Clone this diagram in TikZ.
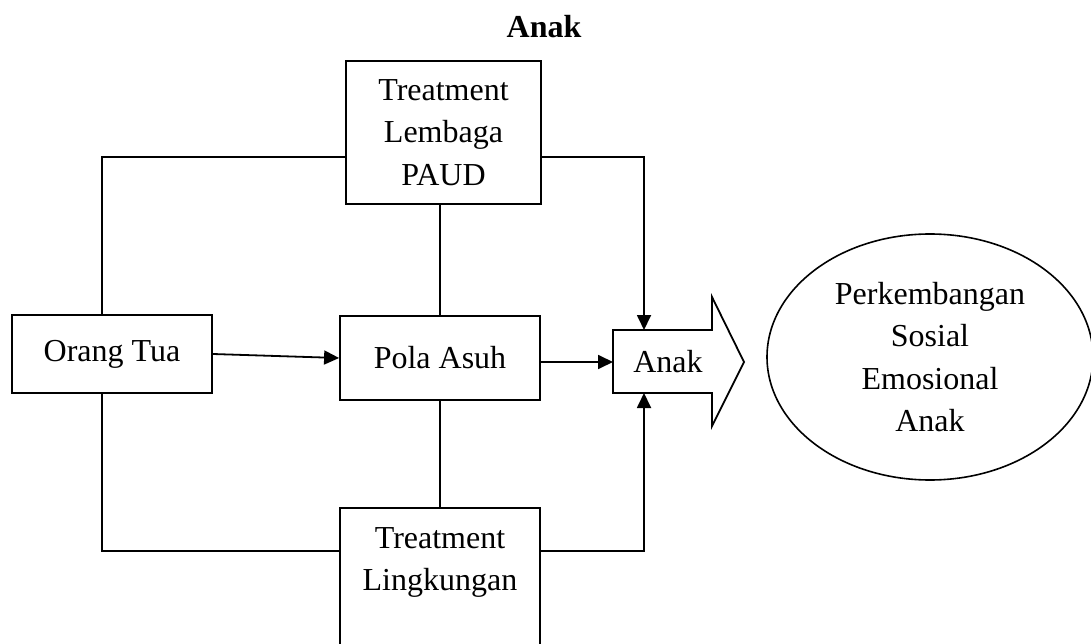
\documentclass[tikz,border=0pt]{standalone}
\usepackage{fontspec}
\setmainfont{Liberation Serif}
\usetikzlibrary{shapes.geometric,arrows.meta,calc}
\begin{document}
\begin{tikzpicture}[x=1pt,y=-1pt,
  txt/.style={font=\fontsize{32}{42.5}\selectfont, align=center},
  box/.style={draw, line width=1.8pt, txt, inner sep=0pt},
  conn/.style={line width=1.8pt},
  arr/.style={conn, -{Triangle[length=15pt,width=14pt]}}]
\useasboundingbox (0,0) rectangle (1091,644);
\clip (0,0) rectangle (1091,644);
\fill[white] (0,0) rectangle (1091,644);

\node[txt, anchor=base, font=\fontsize{32}{42.5}\selectfont\bfseries] (title) at (544,38) {Anak};

\node[box, minimum width=195pt, minimum height=143pt] (lembaga) at (443.5,132.5) {Treatment\\Lembaga\\PAUD};
\node[box, minimum width=200pt, minimum height=78pt] (orang) at (112,354) {Orang Tua};
\node[box, minimum width=200pt, minimum height=84pt] (pola) at (440,358) {Pola Asuh};
\node[draw, line width=1.8pt, minimum width=200pt, minimum height=170pt, anchor=north] (ling) at (440,507) {};
\node[txt, anchor=north, inner sep=0pt] (lingtext) at (440,527) {Treatment\\Lingkungan};

% arrow shape "Anak"
\coordinate (aL) at (613,362);
\coordinate (aT) at (644,330);
\coordinate (aB) at (644,393);
\draw[line width=1.8pt, line join=miter] (613,330) -- (712,330) -- (712,297) -- (744,362) -- (712,426) -- (712,393) -- (613,393) -- cycle;
\node[txt, inner sep=0pt] (anak) at (668,362) {Anak};

\node[draw, line width=1.6pt, ellipse, minimum width=326pt, minimum height=246pt, inner sep=0pt, txt] (perk) at (930,357) {Perkembangan\\Sosial\\Emosional\\Anak};

% connectors
\draw[conn] ($(orang.north)+(-10,0)$) |- ($(lembaga.west)+(0,24.5)$);
\draw[conn] ($(orang.south)+(-10,0)$) |- ($(ling.north west)+(0,44)$);
\draw[arr] ($(lembaga.east)+(0,24.5)$) -| (aT);
\draw[arr] ($(ling.north east)+(0,44)$) -| (aB);
\draw[conn] (pola.north |- lembaga.south) -- (pola.north);
\draw[conn] (pola.south) -- (ling.north);
\draw[arr] (orang.east) -- (pola.west);
\draw[arr] (pola.east |- aL) -- (aL);
\end{tikzpicture}
\end{document}
